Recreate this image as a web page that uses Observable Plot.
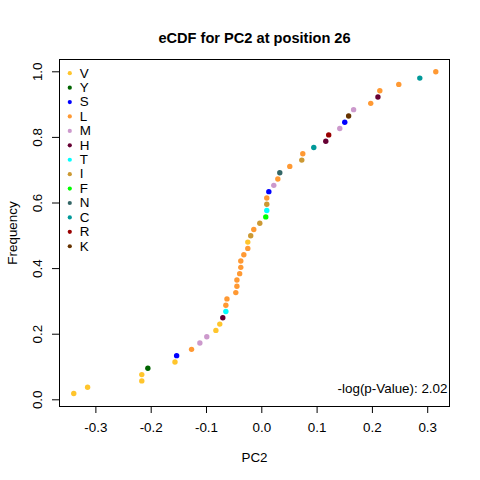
<!DOCTYPE html>
<html>
<head>
<meta charset="utf-8">
<script src="https://cdn.jsdelivr.net/npm/d3@7"></script>
<script src="https://cdn.jsdelivr.net/npm/@observablehq/plot@0.6"></script>
<style>
  html, body { margin: 0; padding: 0; background: #fff; }
  svg { display: block; }
</style>
</head>
<body>
<div id="chart"></div>
<script>
// Sorted PC2 values (eCDF order) and the residue of each point
const pc2 = [-0.340, -0.315, -0.217, -0.217, -0.206, -0.157, -0.154, -0.127, -0.112, -0.0995,
  -0.083, -0.076, -0.0705, -0.065, -0.065, -0.063, -0.047, -0.045, -0.045, -0.040,
  -0.038, -0.038, -0.0325, -0.0253, -0.0253, -0.020, -0.0145, -0.0036, 0.0072, 0.009,
  0.009, 0.009, 0.0127, 0.0217, 0.029, 0.0325, 0.0506, 0.0723, 0.0741, 0.094,
  0.1157, 0.121, 0.141, 0.150, 0.157, 0.166, 0.197, 0.210, 0.2134, 0.2477,
  0.2857, 0.3146];
const residue = ["V","V","V","V","Y","V","S","L","M","M",
  "V","V","H","T","L","L","L","L","L","L",
  "L","L","L","L","V","I","L","I","F","T",
  "I","L","S","M","L","N","L","I","L","C",
  "H","R","M","S","K","M","L","H","L","L",
  "C","L"];
const legendNames = ["V","Y","S","L","M","H","T","I","F","N","C","R","K"];
const legendColors = ["#FFC52C","#006400","#0000FF","#FF9933","#CC99CC","#660033","#00FFFF",
  "#CC9933","#00FF00","#336666","#009999","#990000","#663300"];
const xTicks = [-0.3, -0.2, -0.1, 0.0, 0.1, 0.2, 0.3];
const yTicks = [0.0, 0.2, 0.4, 0.6, 0.8, 1.0];
const titleText = "eCDF for PC2 at position 26";
const xLabel = "PC2";
const yLabel = "Frequency";
const pValueText = "-log(p-Value): 2.02";

const n = pc2.length;
const points = pc2.map((v, i) => ({x: v, y: (i + 1) / n, aa: residue[i]}));
// legend rows placed in the top-left corner of the panel (data coordinates)
const legend = legendNames.map((name, i) => ({name, x: -0.3472, y: 0.9957 - 0.04396 * i}));

const font = "'Liberation Sans', Arial, Helvetica, sans-serif";
const fs = 13.4;

const chart = Plot.plot({
  width: 480,
  height: 480,
  marginLeft: 59,
  marginRight: 31,
  marginTop: 59,
  marginBottom: 74,
  style: {fontFamily: font, fontSize: fs + "px", background: "#fff", color: "#000"},
  x: {domain: [-0.3658, 0.3394]},
  y: {domain: [-0.0204, 1.0375]},
  color: {domain: legendNames, range: legendColors},
  marks: [
    Plot.frame({stroke: "#000", strokeWidth: 1}),
    Plot.axisX({ticks: xTicks, tickSize: 7, tickPadding: 9, tickFormat: d => d.toFixed(1),
      fontSize: fs, stroke: "#000", label: null}),
    Plot.axisY({ticks: yTicks, tickSize: 7, tickFormat: () => "", stroke: "#000", label: null}),
    Plot.text(yTicks, {y: d => d, text: d => d.toFixed(1), frameAnchor: "left", dx: -21.5,
      rotate: -90, textAnchor: "middle", lineAnchor: "middle", fontSize: fs, fill: "#000"}),
    Plot.dot(points, {x: "x", y: "y", fill: "aa", r: 2.7, stroke: null}),
    Plot.dot(legend, {x: "x", y: "y", fill: "name", r: 2.1, stroke: null}),
    Plot.text(legend, {x: "x", y: "y", text: "name", dx: 10, textAnchor: "start",
      lineAnchor: "middle", fontSize: fs, fill: "#000"}),
    Plot.text([titleText], {frameAnchor: "top", dy: -21, text: d => d, fontWeight: "bold",
      fontSize: 14.6, lineAnchor: "middle", fill: "#000"}),
    Plot.text([xLabel], {frameAnchor: "bottom", dy: 51, text: d => d, fontSize: fs,
      lineAnchor: "middle", fill: "#000"}),
    Plot.text([yLabel], {frameAnchor: "left", dx: -47, text: d => d, rotate: -90, fontSize: fs,
      lineAnchor: "middle", textAnchor: "middle", fill: "#000"}),
    Plot.text([pValueText], {frameAnchor: "bottom-right", dx: -2, dy: -14, text: d => d,
      textAnchor: "end", lineAnchor: "bottom", fontSize: fs, fill: "#000"})
  ]
});
document.getElementById("chart").appendChild(chart);
</script>
</body>
</html>
